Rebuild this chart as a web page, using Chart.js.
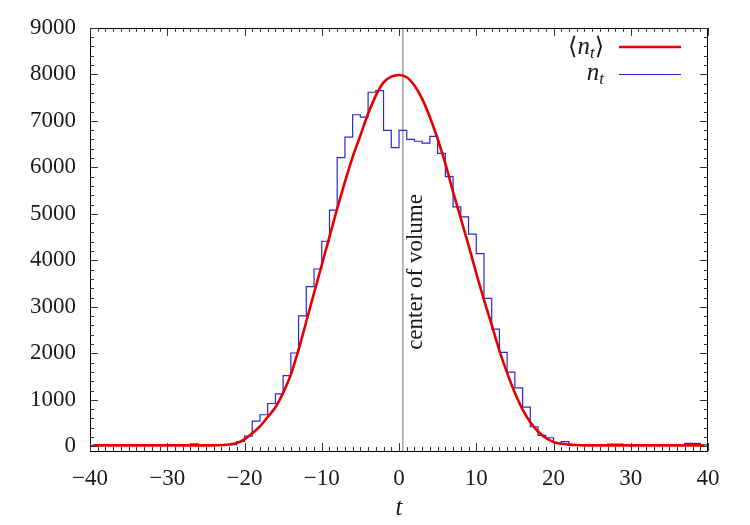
<!DOCTYPE html>
<html><head><meta charset="utf-8">
<script src="https://cdn.jsdelivr.net/npm/chart.js@4"></script>
<style>html,body{margin:0;padding:0;background:#fff}#wrap{width:750px;height:525px}</style>
</head><body><div id="wrap"><canvas id="c" width="750" height="525"></canvas></div>
<script>
// ---- data ----
// histogram bin edges (t) and counts n_t for bins [edge_i, edge_i+1]
const binEdges = [-40,-39,-38,-37,-36,-35,-34,-33,-32,-31,-30,-29,-28,-27,-26,-25,-24,-23,-22,-21,
  -20,-19,-18,-17,-16,-15,-14,-13,-12,-11,-10,-9,-8,-7,-6,-5,-4,-3,-2,-1,
  0,1,2,3,4,5,6,7,8,9,10,11,12,13,14,15,16,17,18,19,
  20,21,22,23,24,25,26,27,28,29,30,31,32,33,34,35,36,37,38,39,40];
const counts = [20,35,35,30,35,30,30,35,30,30,35,30,35,55,35,30,30,35,35,100,
  221,543,679,921,1129,1521,2007,2807,3435,3814,4410,5078,6207,6650,7130,7080,7614,7650,6795,6422,
  6795,6600,6560,6520,6665,6300,5800,5150,4935,4564,4145,3182,2522,2021,1598,1257,843,421,236,185,
  80,100,40,40,40,40,40,50,50,40,40,40,40,40,40,40,40,65,65,30];
// smooth average <n_t>
const fitT = [-39.5,-39,-38,-37,-36,-35,-34,-33,-32,-31,-30,-29,-28,-27,-26,-25,-24,-23,-22,-21,
  -20,-19,-18,-17,-16,-15,-14,-13,-12,-11,-10,-9,-8,-7,-6,-5,-4,-3,-2,-1,
  0,1,2,3,4,5,6,7,8,9,10,11,12,13,14,15,16,17,18,19,
  20,21,22,23,24,25,26,27,28,29,30,31,32,33,34,35,36,37,38,39,39.5];
const fitVals = [20,20,20,20,20,20,20,20,20,20,20,20,20,20,20,20,22,28,40,70,
  150,280,430,630,840,1150,1543,2078,2685,3293,3900,4506,5114,5685,6220,6685,7150,7542,7828,7950,
  7986,7936,7757,7471,7078,6614,6079,5471,4900,4328,3722,3150,2610,2060,1580,1150,790,520,320,180,
  95,55,38,28,22,20,20,20,20,20,20,20,20,20,20,20,20,20,20,20,20];
const xTicks = [-40,-30,-20,-10,0,10,20,30,40];
const yTicks = [0,1000,2000,3000,4000,5000,6000,7000,8000,9000];
const centerOfVolume = 0.5;
const centerLabel = 'center of volume';
const centerLabelY = 3750;

const histData = binEdges.map((e,i)=>({x:e, y: i<counts.length ? counts[i] : counts[counts.length-1]}));
const fitData = fitT.map((t,i)=>({x:t, y:fitVals[i]}));

const SERIF = '"Liberation Serif", "DejaVu Serif", serif';
const RED = 'rgb(228,0,0)';
const BLUE = 'rgb(40,40,215)';

const decor = {
  id:'decor',
  beforeDatasetsDraw(chart){
    const {ctx, chartArea:a, scales:{x}} = chart;
    const px = x.getPixelForValue(centerOfVolume);
    ctx.save();
    ctx.strokeStyle = 'rgb(160,160,160)';
    ctx.lineWidth = 1.5;
    ctx.beginPath(); ctx.moveTo(px, a.bottom); ctx.lineTo(px, a.top); ctx.stroke();
    ctx.restore();
  },
  afterDatasetsDraw(chart){
    const {ctx, chartArea:a, scales:{x,y}} = chart;
    ctx.save();
    // frame
    ctx.strokeStyle = '#000'; ctx.lineWidth = 1;
    ctx.strokeRect(Math.round(a.left)+0.5, Math.round(a.top)+0.5, Math.round(a.right-a.left)-1, Math.round(a.bottom-a.top));
    // ticks inside, mirrored
    ctx.strokeStyle = '#333';
    ctx.beginPath();
    for (let v=-40; v<=40; v+=1){
      const p = Math.round(x.getPixelForValue(v))+0.5;
      const L = (v%10===0)?8:4;
      ctx.moveTo(p, a.bottom); ctx.lineTo(p, a.bottom-L);
      ctx.moveTo(p, a.top); ctx.lineTo(p, a.top+L);
    }
    for (let v=0; v<=9000; v+=200){
      const p = Math.round(y.getPixelForValue(v))+0.5;
      const L = (v%1000===0)?8:4;
      ctx.moveTo(a.left, p); ctx.lineTo(a.left+L, p);
      ctx.moveTo(a.right, p); ctx.lineTo(a.right-L, p);
    }
    ctx.stroke();
    // center label
    const px = x.getPixelForValue(centerOfVolume);
    ctx.fillStyle = '#1a1a1a';
    ctx.font = '23px '+SERIF;
    ctx.translate(px+13, y.getPixelForValue(centerLabelY));
    ctx.rotate(-Math.PI/2);
    ctx.textAlign = 'center'; ctx.textBaseline = 'middle';
    ctx.fillText(centerLabel, 0, 0);
    ctx.restore();

    // legend
    ctx.save();
    const drawMath = (parts, rightX, cy) => {
      let total = 0;
      parts.forEach(p=>{ ctx.font = p.font; p.w = ctx.measureText(p.s).width; total += p.w; });
      let cx = rightX - total;
      ctx.textBaseline = 'alphabetic'; ctx.textAlign = 'left'; ctx.fillStyle = '#1a1a1a';
      parts.forEach(p=>{ ctx.font = p.font; ctx.fillText(p.s, cx, cy + (p.dy||0)); cx += p.w; });
    };
    const it = 'italic 25px '+SERIF, sub = 'italic 17px '+SERIF, up = '24px "DejaVu Serif", serif';
    drawMath([{s:'\u27E8',font:up},{s:'n',font:it},{s:'t',font:sub,dy:4},{s:'\u27E9',font:up}], 604, 54);
    drawMath([{s:'n',font:it},{s:'t',font:sub,dy:4}], 604, 80);
    ctx.lineCap = 'butt';
    ctx.strokeStyle = RED; ctx.lineWidth = 2.6;
    ctx.beginPath(); ctx.moveTo(619,47); ctx.lineTo(681,47); ctx.stroke();
    ctx.strokeStyle = BLUE; ctx.lineWidth = 1.2;
    ctx.beginPath(); ctx.moveTo(619,74.5); ctx.lineTo(681,74.5); ctx.stroke();
    // x title
    ctx.font = 'italic 25px '+SERIF; ctx.textAlign='center'; ctx.textBaseline='middle';
    ctx.fillStyle = '#1a1a1a';
    ctx.fillText('t', (a.left+a.right)/2, 508);
    ctx.restore();
  }
};

const fmt = v => (v<0 ? '\u2212'+Math.abs(v) : String(v));

new Chart(document.getElementById('c'), {
  type:'line',
  data:{datasets:[
    {label:'<n_t>', data:fitData, borderColor:RED, borderWidth:2.6, pointRadius:0, cubicInterpolationMode:'monotone', fill:false},
    {label:'n_t', data:histData, borderColor:BLUE, borderWidth:1.2, pointRadius:0, stepped:'before', fill:false}
  ]},
  options:{
    responsive:false, animation:false, devicePixelRatio:1,
    layout:{padding:{left:0,right:42,top:27,bottom:0}},
    plugins:{legend:{display:false}, tooltip:{enabled:false}},
    scales:{
      x:{type:'linear', min:-40, max:40, position:'bottom',
        afterBuildTicks:s=>{s.ticks = xTicks.map(v=>({value:v}));},
        afterFit:s=>{s.height = 74;},
        grid:{display:false, drawTicks:false}, border:{display:false},
        ticks:{callback:fmt, font:{family:SERIF,size:23}, color:'#1a1a1a', padding:14, maxRotation:0, autoSkip:false}},
      y:{type:'linear', min:-100, max:9000,
        afterBuildTicks:s=>{s.ticks = yTicks.map(v=>({value:v}));},
        afterFit:s=>{s.width = 90;},
        grid:{display:false, drawTicks:false}, border:{display:false},
        ticks:{callback:fmt, font:{family:SERIF,size:23}, color:'#1a1a1a', padding:14, autoSkip:false}}
    }
  },
  plugins:[decor]
});
</script></body></html>
